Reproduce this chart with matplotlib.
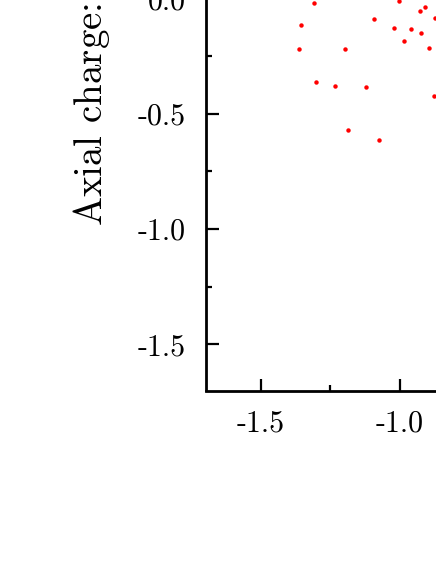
import matplotlib
matplotlib.use("Agg")
import matplotlib.pyplot as plt
from matplotlib.ticker import MultipleLocator

plt.rcParams['font.family'] = ['cmr10', 'DejaVu Serif']
plt.rcParams['axes.unicode_minus'] = False
plt.rcParams['mathtext.fontset'] = 'cm'

x_vals = [-1.310, -1.002, -0.928, -0.907, -0.872, -1.357, -1.092, -1.021,
          -0.960, -0.922, -0.984, -0.895, -1.362, -1.198, -1.303, -1.233,
          -1.122, -0.875, -1.186, -1.075]
y_vals = [-0.022, -0.012, -0.054, -0.039, -0.086, -0.114, -0.090, -0.127,
          -0.133, -0.150, -0.185, -0.214, -0.221, -0.221, -0.363, -0.379,
          -0.385, -0.425, -0.572, -0.613]
x_ticks = [-1.5, -1.0]
y_ticks = [-1.5, -1.0, -0.5, 0.0]
y_label = "Axial charge: $g_A$"

W, H = 436, 564
fig = plt.figure(figsize=(W / 100, H / 100), dpi=100)

# axes run past the right and top edges, as in the cropped reference
xlim = (-1.7, 0.0)
ylim = (-1.7, 0.3)
px_per_x = 277.3
px_per_y = 230.7
left, bottom = 205.5, 390.5
ax = fig.add_axes([left / W, (H - bottom) / H,
                   (xlim[1] - xlim[0]) * px_per_x / W,
                   (ylim[1] - ylim[0]) * px_per_y / H])

ax.plot(x_vals, y_vals, 'o', color='red', ms=3.2, mec='none')

ax.set_xlim(*xlim)
ax.set_ylim(*ylim)
ax.set_xticks(x_ticks)
ax.set_yticks(y_ticks)
ax.set_xticklabels([f"{v:.1f}" for v in x_ticks])
ax.set_yticklabels([f"{v:.1f}" for v in y_ticks])
ax.xaxis.set_minor_locator(MultipleLocator(0.25))
ax.yaxis.set_minor_locator(MultipleLocator(0.25))

for s in ax.spines.values():
    s.set_linewidth(2.0)
ax.tick_params(which='major', direction='in', length=9, width=1.6,
               labelsize=21.5, top=False, right=False)
ax.tick_params(which='minor', direction='in', length=4.5, width=1.6,
               top=False, right=False)
ax.tick_params(axis='y', which='major', pad=14)
ax.tick_params(axis='x', which='major', pad=14)

fig.text(102 / W, (H - 226) / H, y_label, rotation=90, rotation_mode='anchor',
         ha='left', va='baseline', fontsize=28)

fig.savefig("out.png", dpi=100)
